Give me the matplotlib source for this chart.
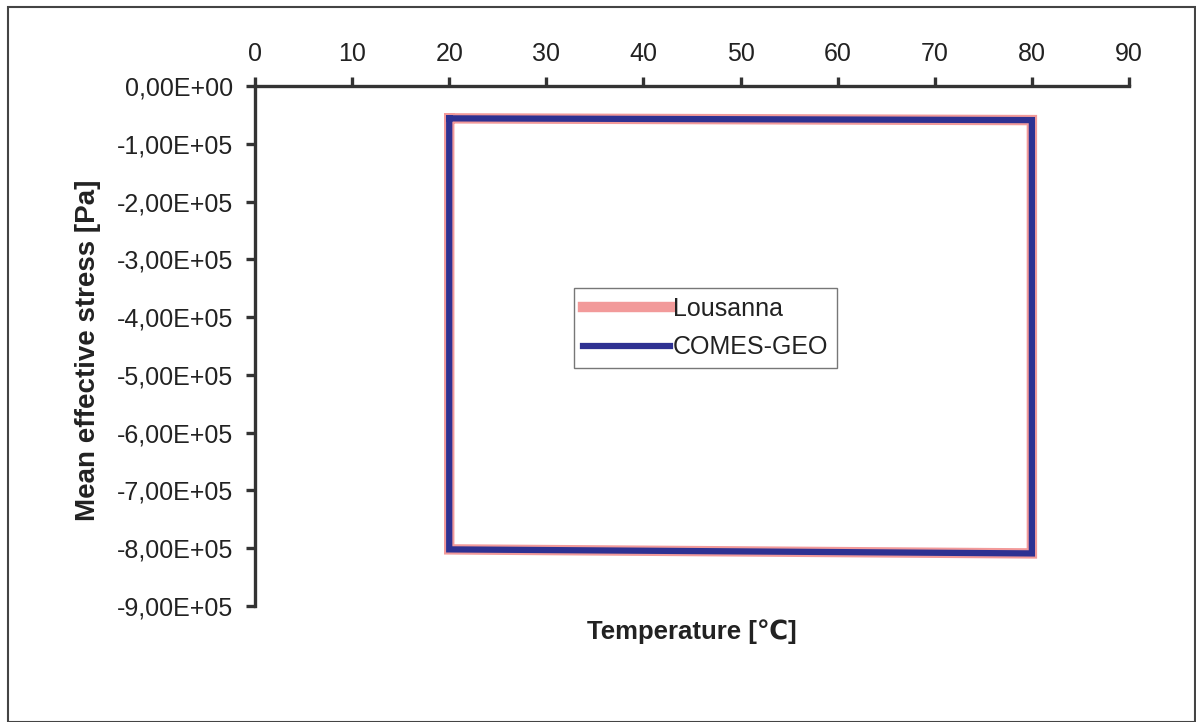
import matplotlib
matplotlib.use("Agg")
import matplotlib.pyplot as plt
from matplotlib.ticker import FuncFormatter
from matplotlib.patches import Rectangle

plt.rcParams['font.family'] = ['Liberation Sans', 'DejaVu Sans']

# Thermal cycle path (temperature in °C, mean effective stress in Pa)
lousanna_temp = [20, 80, 80, 20, 20]
lousanna_stress = [-5.6e4, -5.9e4, -8.09e5, -8.02e5, -5.6e4]
comes_temp = [20, 80, 80, 20, 20]
comes_stress = [-5.6e4, -5.9e4, -8.09e5, -8.02e5, -5.6e4]

x_ticks = [0, 10, 20, 30, 40, 50, 60, 70, 80, 90]
y_ticks = [0, -1e5, -2e5, -3e5, -4e5, -5e5, -6e5, -7e5, -8e5, -9e5]

axis_color = '#333333'
text_color = '#222222'
fs = 18

fig = plt.figure(figsize=(11.96, 7.22), dpi=100)
fig.patches.append(Rectangle((8 / 1196, 0.0), 1 - 9.5 / 1196, 1 - 6.5 / 722,
                             transform=fig.transFigure, fill=False,
                             edgecolor='#444444', linewidth=1.5))

ax = fig.add_axes([255 / 1196, 1 - 606 / 722, (1129 - 255) / 1196, (606 - 86) / 722])

ax.plot(lousanna_temp, lousanna_stress, color='#F29A9A', linewidth=7.5,
        solid_joinstyle='miter', label='Lousanna')
ax.plot(comes_temp, comes_stress, color='#2E3192', linewidth=4.5,
        solid_joinstyle='miter', label='COMES-GEO')

ax.set_xlim(0, 90)
ax.set_ylim(-9e5, 0)
ax.set_xticks(x_ticks)
ax.set_yticks(y_ticks)


def sci_comma(v, pos):
    if v == 0:
        return '0,00E+00'
    mant, exp = f"{v:.2E}".split('E')
    return mant.replace('.', ',') + 'E+' + exp.lstrip('+-').zfill(2)


ax.yaxis.set_major_formatter(FuncFormatter(sci_comma))

ax.xaxis.tick_top()
for side in ('right', 'bottom'):
    ax.spines[side].set_visible(False)
for side in ('left', 'top'):
    ax.spines[side].set_color(axis_color)
    ax.spines[side].set_linewidth(2.4)
ax.tick_params(axis='both', direction='out', length=6.5, width=2.4,
               color=axis_color, labelcolor=text_color, labelsize=fs)
ax.tick_params(axis='y', pad=9)
ax.tick_params(axis='x', pad=8)

fig.text(88 / 1196, 1 - 350 / 722, 'Mean effective stress [Pa]', fontsize=20,
         fontweight='bold', color=text_color, rotation=90,
         ha='center', va='center')
fig.text(692 / 1196, 1 - 632 / 722, 'Temperature [℃]', fontsize=18.5,
         fontweight='bold', color=text_color, ha='center', va='center')

leg = ax.legend(loc='upper left', bbox_to_anchor=(574 / 1196, 1 - 288 / 722),
                bbox_transform=fig.transFigure, fontsize=fs, frameon=True,
                fancybox=False, edgecolor='#555555', handlelength=3.5,
                handletextpad=0.1, borderpad=0.35, labelspacing=0.58,
                borderaxespad=0)
leg.get_frame().set_linewidth(1.0)
for t in leg.get_texts():
    t.set_color(text_color)

fig.savefig('out.png', dpi=100)
